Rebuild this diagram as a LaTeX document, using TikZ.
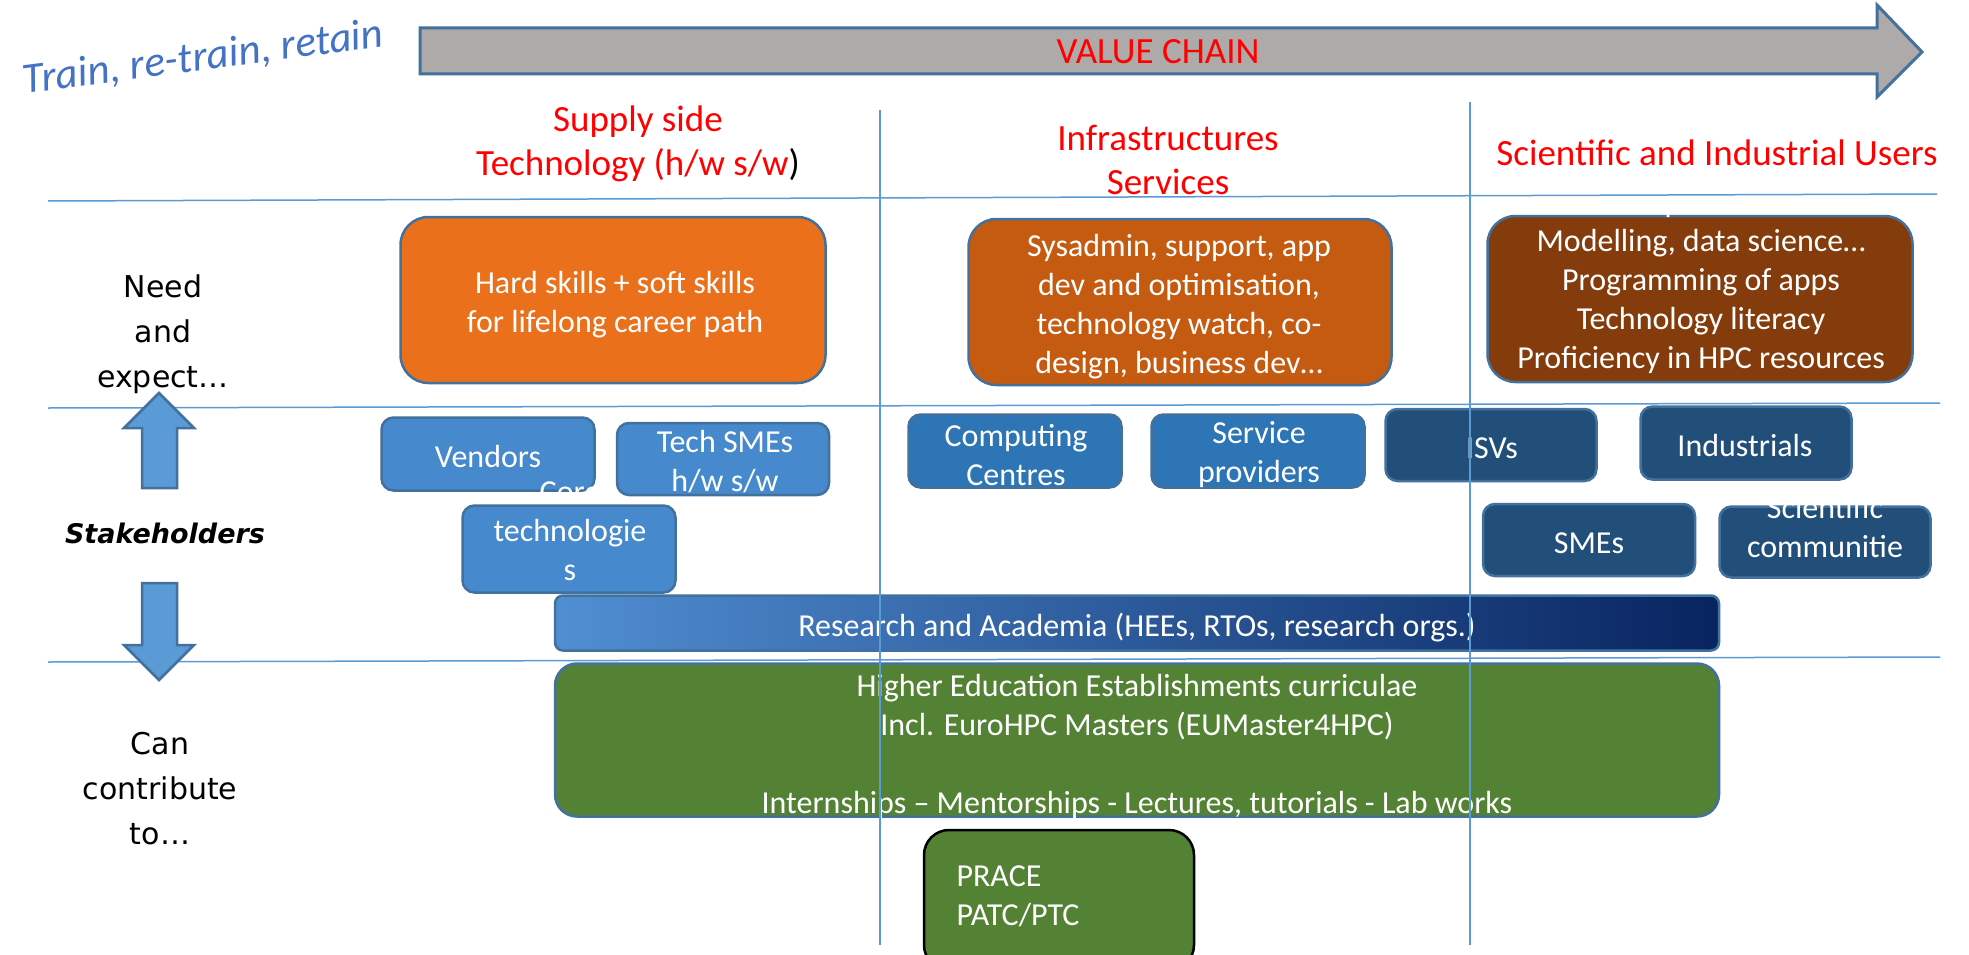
\documentclass[tikz,border=0pt]{standalone}
\usepackage{fontspec}
\setmainfont{Carlito}
\newfontfamily\sidefont{DejaVu Sans}

\definecolor{boxline}{RGB}{65,113,156}
\definecolor{guideblue}{RGB}{91,155,213}
\definecolor{arrowblue}{RGB}{91,155,213}
\definecolor{chaingray}{RGB}{174,170,170}
\definecolor{skillorange}{RGB}{234,112,28}
\definecolor{servorange}{RGB}{197,90,17}
\definecolor{userbrown}{RGB}{132,60,12}
\definecolor{techblue}{RGB}{70,137,204}
\definecolor{infrablue}{RGB}{46,117,182}
\definecolor{userblue}{RGB}{33,79,122}
\definecolor{acadlight}{RGB}{80,142,210}
\definecolor{acaddark}{RGB}{8,36,96}
\definecolor{edugreen}{RGB}{84,130,53}
\definecolor{trainblue}{RGB}{68,114,196}

\newcommand\boxfont{\fontsize{32}{39}\selectfont}
\newcommand\headfont{\fontsize{37}{44}\selectfont}

\begin{document}
\begin{tikzpicture}[x=1pt, y=-1pt,
        box/.style = {rounded corners=#1, draw=boxline, line width=2.5pt,
            text=white, align=center, font=\boxfont, inner sep=0pt},
        box/.default = 12pt,
        boxtext/.style = {text=white, align=center, font=\boxfont},
        heading/.style = {text=red, align=center, font=\headfont},
        side/.style = {align=center, font=\sidefont\fontsize{30}{45}\selectfont},
        guide/.style = {draw=guideblue, line width=1.5pt},
        blockarrow/.style = {fill=arrowblue, draw=boxline, line width=2.5pt}]

    \clip (0,0) rectangle (1969,955);
    \fill[white] (0,0) rectangle (1969,955);

    % Value chain arrow
    \draw[fill=chaingray, draw=boxline, line width=3pt]
        (420,28) -- (1877,28) -- (1877,5) -- (1922,52) -- (1877,97)
        -- (1877,74) -- (420,74) -- cycle;
    \node[text=red, font=\headfont] (chain) at (1158,52) {VALUE CHAIN};

    % Train, re-train, retain
    \node[text=trainblue, rotate=7.5, font=\fontsize{43}{50}\selectfont\itshape]
        (train) at (203,58) {Train, re-train, retain};

    % Column headings
    \node[heading] (supply) at (638,144) {Supply side\\Technology (h/w s/w\textcolor{black}{)}};
    \node[heading] (infra) at (1168,160) {Infrastructures\\Services};
    \node[heading] (users-head) at (1717,153) {Scientific and Industrial Users};

    % Need and expect
    \node[box=28pt, fill=skillorange, minimum width=425pt, minimum height=166pt]
        (hard) at (613,300) {};
    \node[boxtext] (hard-txt) at (615,305) {Hard skills + soft skills\\for lifelong career path};
    \node[box=28pt, fill=servorange, minimum width=423pt, minimum height=166pt]
        (sysadmin) at (1180,302) {};
    \node[boxtext] (sysadmin-txt) at (1179,307)
        {Sysadmin, support, app\\dev and optimisation,\\technology watch, co-\\design, business dev…};
    \node[box=28pt, fill=userbrown, minimum width=425pt, minimum height=166pt]
        (users) at (1700,299) {};
    \node[boxtext] (users-txt) at (1701,282)
        {Area specific skills\\Modelling, data science…\\Programming of apps\\Technology literacy\\Proficiency in HPC resources};

    % Stakeholders
    \node[box, fill=techblue, minimum width=213pt, minimum height=73pt]
        (vendors) at (488,454) {};
    \node[boxtext] (vendors-txt) at (488,457) {Vendors};
    \node[box, fill=techblue, minimum width=212pt, minimum height=72pt]
        (techsme) at (723,459) {};
    \node[boxtext] (techsme-txt) at (725,462) {Tech SMEs\\h/w s/w};
    \node[box, fill=techblue, minimum width=213pt, minimum height=87pt]
        (core) at (569,549) {};
    \node[boxtext] (core-txt) at (570,531) {Core\\technologie\\s};
    \node[box, fill=infrablue, minimum width=213pt, minimum height=73pt]
        (computing) at (1015,451) {};
    \node[boxtext] (computing-txt) at (1016,455) {Computing\\Centres};
    \node[box, fill=infrablue, minimum width=213pt, minimum height=73pt]
        (service) at (1258,451) {};
    \node[boxtext] (service-txt) at (1259,455) {Service\\providers};
    \node[box, fill=userblue, minimum width=211pt, minimum height=72pt]
        (isv) at (1491,445) {};
    \node[boxtext] (isv-txt) at (1492,448) {ISVs};
    \node[box, fill=userblue, minimum width=211pt, minimum height=73pt]
        (industrials) at (1746,443) {};
    \node[boxtext] (industrials-txt) at (1745,446) {Industrials};
    \node[box, fill=userblue, minimum width=212pt, minimum height=72pt]
        (sme) at (1589,540) {};
    \node[boxtext] (sme-txt) at (1589,543) {SMEs};
    \node[box, fill=userblue, minimum width=211pt, minimum height=71pt]
        (scientific) at (1825,542) {};
    \node[boxtext] (scientific-txt) at (1825,547) {Scientific\\communitie\\s};
    \node[box=8pt, left color=acadlight, right color=acaddark,
        minimum width=1164pt, minimum height=55pt]
        (research) at (1137,623) {};
    \node[boxtext] (research-txt) at (1137,628) {Research and Academia (HEEs, RTOs, research orgs.)};

    % Can contribute to
    \node[box=22pt, fill=edugreen, minimum width=1164pt, minimum height=153pt]
        (hee) at (1137,740) {};
    \node[boxtext] (hee-txt) at (1137,746)
        {Higher Education Establishments curriculae\\Incl. EuroHPC Masters (EUMaster4HPC)\\ \\Internships – Mentorships - Lectures, tutorials - Lab works};
    \node[box=25pt, fill=edugreen, draw=black, minimum width=270pt, minimum height=140pt]
        (prace) at (1059,900) {};
    \node[boxtext, align=left, anchor=west] (prace-txt) at (953,896) {PRACE\\PATC/PTC};

    % Row and column guides
    \draw[guide] (48,201) -- (1937,194);
    \draw[guide] (48,408) -- (1940,403);
    \draw[guide] (48,662) -- (1940,657);
    \draw[guide] (880,110) -- (880,945);
    \draw[guide] (1470,102) -- (1470,945);

    % Side labels
    \node[side] (need) at (163,334) {Need\\and\\expect…};
    \node[font=\sidefont\fontsize{27}{32}\selectfont\bfseries\itshape]
        (stake) at (165,533) {Stakeholders};
    \node[side] (can) at (160,789) {Can\\contribute\\to…};

    % Up and down arrows
    \draw[blockarrow] (142,488) -- (142,428) -- (124,428) -- (159,393)
        -- (194,428) -- (177,428) -- (177,488) -- cycle;
    \draw[blockarrow] (142,583) -- (142,645) -- (124,645) -- (159,680)
        -- (194,645) -- (177,645) -- (177,583) -- cycle;

\end{tikzpicture}
\end{document}
